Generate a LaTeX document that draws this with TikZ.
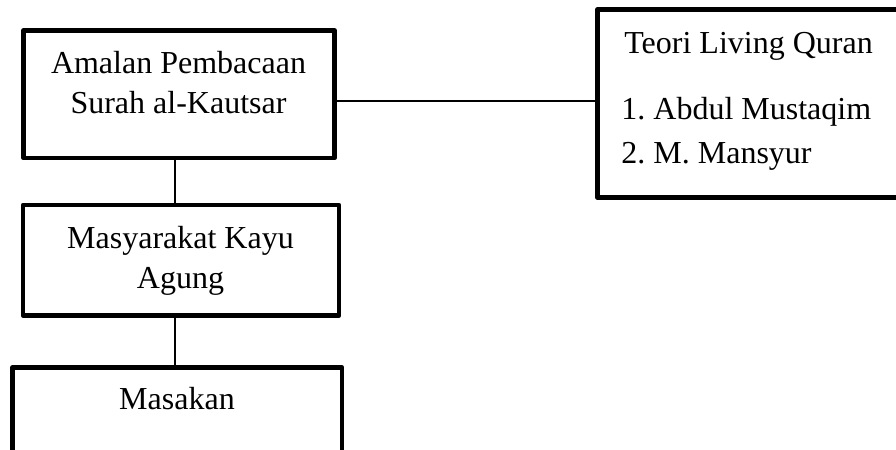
\documentclass[tikz,border=0pt]{standalone}
\usepackage{fontspec}
\setmainfont{Liberation Serif}
\usepackage{tikz}
\frenchspacing

\begin{document}
\begin{tikzpicture}[x=.5pt,y=-.5pt,
        kotak/.style={draw,line width=2.4pt,line join=round,inner sep=0pt},
        teks/.style={font=\fontsize{16}{20}\selectfont,inner sep=0pt,anchor=base},
        garis/.style={line width=1.3pt}]
        \clip (0,0) rectangle (896,450);

        % kotak-kotak
        \node[kotak,minimum width=155.5pt,minimum height=63.75pt] (amalan) at (179,94.25){};
        \node[kotak,minimum width=153.75pt,minimum height=94pt] (teori) at (751.25,103.5){};
        \node[kotak,minimum width=158pt,minimum height=55.25pt] (masyarakat) at (181,260.25){};
        \node[kotak,minimum width=164.75pt,minimum height=56.5pt] (masakan) at (177.25,424){};

        \node[teks,align=center] (amalanteks) at (178.5,113){Amalan Pembacaan\\Surah al-Kautsar};
        \node[teks,align=center] (masyarakatteks) at (180.5,288){Masyarakat Kayu\\Agung};
        \node[teks] (masakanteks) at (177,409){Masakan};
        \node[teks,align=left,anchor=base west] (teoriteks) at (621,163){\hspace*{1.5pt}Teori Living Quran\\[13pt]1. Abdul Mustaqim\\[2pt]2. M. Mansyur};

        \draw[garis] ([yshift=-3.4pt]amalan.east) coordinate (h1) -- (h1 -| teori.west);
        \draw[garis] ([xshift=-2pt]amalan.south) coordinate (v1) -- (v1 |- masyarakat.north);
        \draw[garis] (v1 |- masyarakat.south) -- (v1 |- masakan.north);
\end{tikzpicture}
\end{document}
